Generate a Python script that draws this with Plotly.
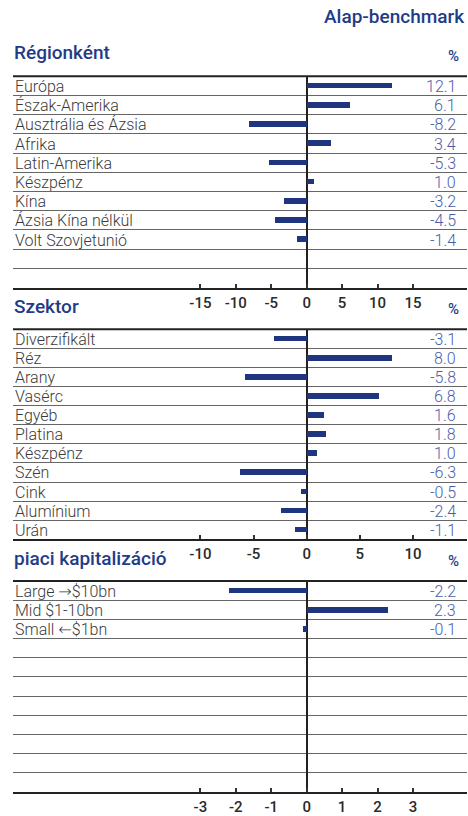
import plotly.graph_objects as go

# ---------------- data ----------------
region_labels = ["Európa", "Észak-Amerika", "Ausztrália és Ázsia", "Afrika", "Latin-Amerika",
                 "Készpénz", "Kína", "Ázsia Kína nélkül", "Volt Szovjetunió"]
region_values = [12.1, 6.1, -8.2, 3.4, -5.3, 1.0, -3.2, -4.5, -1.4]

sector_labels = ["Diverzifikált", "Réz", "Arany", "Vasérc", "Egyéb", "Platina", "Készpénz",
                 "Szén", "Cink", "Alumínium", "Urán"]
sector_values = [-3.1, 8.0, -5.8, 6.8, 1.6, 1.8, 1.0, -6.3, -0.5, -2.4, -1.1]

cap_labels = ["Large →$10bn", "Mid $1-10bn", "Small ←$1bn"]
cap_values = [-2.2, 2.3, -0.1]

region_ticks = [-15, -10, -5, 0, 5, 10, 15]
sector_ticks = [-10, -5, 0, 5, 10]
cap_ticks = [-3, -2, -1, 0, 1, 2, 3]

titles = ["Régionként", "Szektor", "piaci kapitalizáció"]
header = "Alap-benchmark"

# ---------------- layout helpers ----------------
W, H = 468, 816
NROWS = 11
X_LEFT, X_RIGHT, X_ZERO = 13, 467, 306.7
BAR_COLOR = "#1f3580"
VAL_COLOR = "#4a5da8"
TITLE_COLOR = "#1f3c88"
LABEL_COLOR = "#3a3a3a"
FONT = "Roboto"


def px(x):
    return x / W


def py(y):
    return 1 - y / H


def fmt_label(s):
    # draw arrows with a wider glyph, like the reference
    for a in ("→", "←"):
        s = s.replace(a, f'<span style="font-family:DejaVu Sans;font-size:16px">{a}</span>')
    return s


panels = [
    dict(labels=region_labels, values=region_values, ticks=region_ticks, top=77, bottom=290,
         tick_px=(200, 413), title=titles[0], title_y=53),
    dict(labels=sector_labels, values=sector_values, ticks=sector_ticks, top=332, bottom=544,
         tick_px=(200, 413), title=titles[1], title_y=309),
    dict(labels=cap_labels, values=cap_values, ticks=cap_ticks, top=586, bottom=799,
         tick_px=(200, 413), title=titles[2], title_y=563),
]

fig = go.Figure()
annotations = []
shapes = []
layout = {}

for i, p in enumerate(panels):
    n = i + 1
    xa = "x" if n == 1 else f"x{n}"
    ya = "y" if n == 1 else f"y{n}"
    xkey = "xaxis" if n == 1 else f"xaxis{n}"
    ykey = "yaxis" if n == 1 else f"yaxis{n}"

    tmax = max(p["ticks"])
    scale = (p["tick_px"][1] - X_ZERO) / tmax  # px per unit
    xmin = (X_LEFT - X_ZERO) / scale
    xmax = (X_RIGHT - X_ZERO) / scale

    ypos = [k + 0.5 for k in range(len(p["values"]))]
    fig.add_trace(go.Bar(
        x=p["values"], y=ypos, orientation="h", width=0.3,
        marker=dict(color=BAR_COLOR, line=dict(width=0)),
        xaxis=xa, yaxis=ya, showlegend=False, hoverinfo="skip",
    ))

    layout[xkey] = dict(
        domain=[px(X_LEFT), px(X_RIGHT)], range=[xmin, xmax], anchor=ya,
        tickvals=p["ticks"], ticktext=[str(t) for t in p["ticks"]],
        ticks="inside", ticklen=4, tickwidth=1.5, tickcolor="#333",
        showline=True, linecolor="#222", linewidth=2,
        showgrid=False, zeroline=True, zerolinecolor="#222", zerolinewidth=2,
        tickfont=dict(family=FONT, size=15, color="#2a2a2a", weight=500),
        fixedrange=True,
    )
    layout[ykey] = dict(
        domain=[py(p["bottom"]), py(p["top"])], range=[NROWS, 0], anchor=xa,
        tickvals=list(range(NROWS + 1)), showticklabels=False, ticks="",
        showgrid=True, gridcolor="#666", gridwidth=1, zeroline=False, showline=False,
        fixedrange=True,
    )

    # top thick line
    shapes.append(dict(type="line", xref="paper", yref="paper",
                       x0=px(X_LEFT), x1=px(X_RIGHT), y0=py(p["top"]), y1=py(p["top"]),
                       line=dict(color="#222", width=2)))

    row_h = (p["bottom"] - p["top"]) / NROWS
    for k, (lab, val) in enumerate(zip(p["labels"], p["values"])):
        yc = p["top"] + row_h * (k + 0.5) + 0.5
        annotations.append(dict(
            x=px(13), y=py(yc), xref="paper", yref="paper", text=fmt_label(lab),
            showarrow=False, xanchor="left", yanchor="middle",
            font=dict(family=FONT, size=16, color=LABEL_COLOR, weight=300)))
        annotations.append(dict(
            x=px(458), y=py(yc), xref="paper", yref="paper", text=f"{val:.1f}",
            showarrow=False, xanchor="right", yanchor="middle",
            font=dict(family=FONT, size=16, color=VAL_COLOR, weight=300)))

    # panel title and % sign
    annotations.append(dict(
        x=px(12), y=py(p["title_y"]), xref="paper", yref="paper", text=p["title"],
        showarrow=False, xanchor="left", yanchor="middle",
        font=dict(family=FONT, size=19, color=TITLE_COLOR, weight=500)))
    annotations.append(dict(
        x=px(453), y=py(p["title_y"] + 3), xref="paper", yref="paper", text="%",
        showarrow=False, xanchor="center", yanchor="middle",
        font=dict(family=FONT, size=15, color=TITLE_COLOR, weight=500)))

annotations.append(dict(
    x=px(467), y=py(17), xref="paper", yref="paper", text=header, showarrow=False,
    xanchor="right", yanchor="middle",
    font=dict(family=FONT, size=19, color=TITLE_COLOR, weight=500)))

fig.update_layout(
    width=W, height=H, autosize=False,
    margin=dict(l=0, r=0, t=0, b=0, pad=0),
    paper_bgcolor="white", plot_bgcolor="white",
    annotations=annotations, shapes=shapes, bargap=0,
    **layout,
)

fig.write_html(
    "out.html",
    config={"displayModeBar": False},
    post_script="document.body.style.margin='0';document.body.style.overflow='hidden';",
)
